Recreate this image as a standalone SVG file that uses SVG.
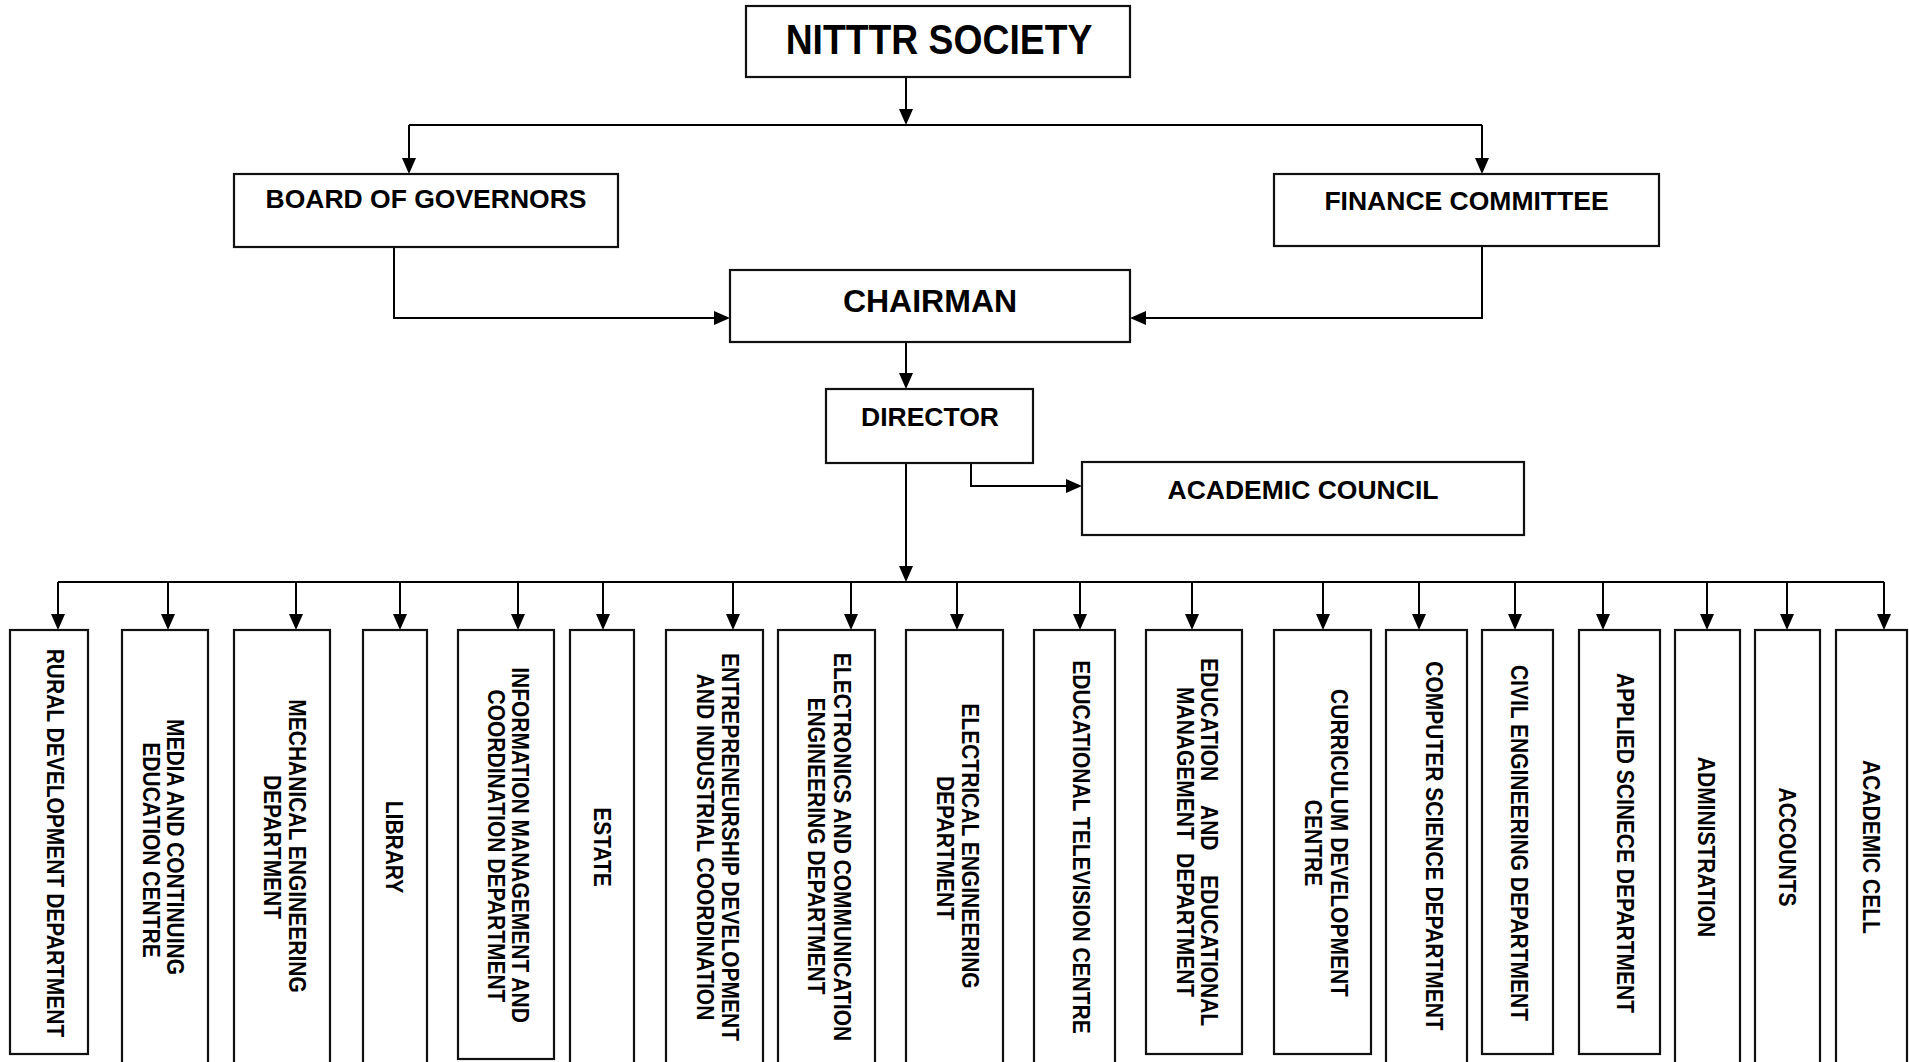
<svg xmlns="http://www.w3.org/2000/svg" width="1909" height="1062" viewBox="0 0 1909 1062">
<style>
.box{fill:#fff;stroke:#111;stroke-width:2.2}
.t{font-family:"Liberation Sans",Arial,sans-serif;font-weight:bold;fill:#000}
.top{font-size:26.5px;text-anchor:middle}
.v{font-size:21px;text-anchor:middle}
.vs{font-size:21px}
.c{fill:none;stroke:#000;stroke-width:2}
.a{marker-end:url(#ah)}
</style>
<defs>
<marker id="ah" markerUnits="userSpaceOnUse" markerWidth="18" markerHeight="16" refX="14" refY="7" orient="auto" viewBox="0 0 18 16">
<path d="M0,0 L16,7 L0,14 z" fill="#000"/>
</marker>
</defs>
<g id="connectors">
<path class="c a" d="M906,77 V123"/>
<path class="c" d="M409,125 H1482"/>
<path class="c a" d="M409,125 V172"/>
<path class="c a" d="M1482,125 V172"/>
<path class="c a" d="M394,248 V318 H728"/>
<path class="c a" d="M1482,246 V318 H1132"/>
<path class="c a" d="M906,342 V387"/>
<path class="c a" d="M971,463 V486 H1080"/>
<path class="c a" d="M906,463 V580"/>
<path class="c" d="M58,582 H1884"/>
<path class="c a" d="M58,582 V628"/>
<path class="c a" d="M168,582 V628"/>
<path class="c a" d="M296,582 V628"/>
<path class="c a" d="M400,582 V628"/>
<path class="c a" d="M518,582 V628"/>
<path class="c a" d="M603,582 V628"/>
<path class="c a" d="M733,582 V628"/>
<path class="c a" d="M851,582 V628"/>
<path class="c a" d="M957,582 V628"/>
<path class="c a" d="M1080,582 V628"/>
<path class="c a" d="M1192,582 V628"/>
<path class="c a" d="M1323,582 V628"/>
<path class="c a" d="M1419,582 V628"/>
<path class="c a" d="M1515,582 V628"/>
<path class="c a" d="M1603,582 V628"/>
<path class="c a" d="M1707,582 V628"/>
<path class="c a" d="M1787,582 V628"/>
<path class="c a" d="M1884,582 V628"/>
</g>
<g id="society"><rect class="box" x="746" y="6" width="384" height="71"/><text class="t" transform="translate(939,53.5) scale(1,1.12)" font-size="37.3" text-anchor="middle">NITTTR SOCIETY</text></g>
<g id="board"><rect class="box" x="234" y="174" width="384" height="73"/><text class="t top" x="426" y="208">BOARD OF GOVERNORS</text></g>
<g id="finance"><rect class="box" x="1274" y="174" width="385" height="72"/><text class="t top" x="1466.5" y="210">FINANCE COMMITTEE</text></g>
<g id="chairman"><rect class="box" x="730" y="270" width="400" height="72"/><text class="t" x="930" y="312" font-size="32" text-anchor="middle">CHAIRMAN</text></g>
<g id="director"><rect class="box" x="826" y="389" width="207" height="74"/><text class="t top" x="930" y="426">DIRECTOR</text></g>
<g id="academic-council"><rect class="box" x="1082" y="462" width="442" height="73"/><text class="t top" x="1303" y="499">ACADEMIC COUNCIL</text></g>

<g id="rural"><rect class="box" x="10" y="630" width="78" height="424"/><text class="t v" transform="translate(47,0) rotate(90) scale(1,1.1)" x="843">RURAL DEVELOPMENT DEPARTMENT</text></g>
<g id="media"><rect class="box" x="122" y="630" width="86" height="436"/><text class="t v" transform="translate(167,0) rotate(90) scale(1,1.1)" x="847">MEDIA AND CONTINUING</text><text class="t v" transform="translate(143,0) rotate(90) scale(1,1.1)" x="850">EDUCATION CENTRE</text></g>
<g id="mechanical"><rect class="box" x="234" y="630" width="96" height="436"/><text class="t v" transform="translate(289,0) rotate(90) scale(1,1.1)" x="846">MECHANICAL ENGINEERING</text><text class="t v" transform="translate(264,0) rotate(90) scale(1,1.1)" x="847">DEPARTMENT</text></g>
<g id="library"><rect class="box" x="363" y="630" width="64" height="436"/><text class="t v" transform="translate(386,0) rotate(90) scale(1,1.1)" x="847">LIBRARY</text></g>
<g id="information"><rect class="box" x="458" y="630" width="96" height="429"/><text class="t v" transform="translate(512,0) rotate(90) scale(1,1.1)" x="845">INFORMATION MANAGEMENT AND</text><text class="t v" transform="translate(488,0) rotate(90) scale(1,1.1)" x="846">COORDINATION DEPARTMENT</text></g>
<g id="estate"><rect class="box" x="570" y="630" width="64" height="436"/><text class="t v" transform="translate(594,0) rotate(90) scale(1,1.1)" x="847">ESTATE</text></g>
<g id="entrepreneurship"><rect class="box" x="666" y="630" width="97" height="436"/><text class="t v" transform="translate(722,0) rotate(90) scale(1,1.1)" x="847">ENTREPRENEURSHIP DEVELOPMENT</text><text class="t v" transform="translate(697,0) rotate(90) scale(1,1.1)" x="847">AND INDUSTRIAL COORDINATION</text></g>
<g id="electronics"><rect class="box" x="778" y="630" width="97" height="436"/><text class="t v" transform="translate(834,0) rotate(90) scale(1,1.1)" x="847">ELECTRONICS AND COMMUNICATION</text><text class="t v" transform="translate(808,0) rotate(90) scale(1,1.1)" x="846">ENGINEERING DEPARTMENT</text></g>
<g id="electrical"><rect class="box" x="906" y="630" width="97" height="436"/><text class="t v" transform="translate(962,0) rotate(90) scale(1,1.1)" x="846">ELECTRICAL ENGINEERING</text><text class="t v" transform="translate(937,0) rotate(90) scale(1,1.1)" x="848">DEPARTMENT</text></g>
<g id="educational-tv"><rect class="box" x="1034" y="630" width="81" height="436"/><text class="t v" transform="translate(1073,0) rotate(90) scale(1,1.1)" x="847">EDUCATIONAL TELEVISION CENTRE</text></g>
<g id="education-management"><rect class="box" x="1146" y="630" width="96" height="424"/><text class="t vs" transform="translate(1201,0) rotate(90) scale(1,1.1)"><tspan x="658">EDUCATION</tspan><tspan x="805">AND</tspan><tspan x="875">EDUCATIONAL</tspan></text><text class="t vs" transform="translate(1177,0) rotate(90) scale(1,1.1)"><tspan x="687">MANAGEMENT</tspan><tspan x="853">DEPARTMENT</tspan></text></g>
<g id="curriculum"><rect class="box" x="1274" y="630" width="97" height="424"/><text class="t v" transform="translate(1331,0) rotate(90) scale(1,1.1)" x="843">CURRICULUM DEVELOPMENT</text><text class="t v" transform="translate(1305,0) rotate(90) scale(1,1.1)" x="843">CENTRE</text></g>
<g id="computer"><rect class="box" x="1386" y="630" width="81" height="436"/><text class="t v" transform="translate(1426,0) rotate(90) scale(1,1.1)" x="846">COMPUTER SCIENCE DEPARTMENT</text></g>
<g id="civil"><rect class="box" x="1482" y="630" width="71" height="424"/><text class="t v" transform="translate(1511,0) rotate(90) scale(1,1.1)" x="843">CIVIL ENGINEERING DEPARTMENT</text></g>
<g id="applied"><rect class="box" x="1579" y="630" width="81" height="424"/><text class="t v" transform="translate(1617,0) rotate(90) scale(1,1.1)" x="843">APPLIED SCINECE DEPARTMENT</text></g>
<g id="administration"><rect class="box" x="1675" y="630" width="65" height="436"/><text class="t v" transform="translate(1698,0) rotate(90) scale(1,1.1)" x="847">ADMINISTRATION</text></g>
<g id="accounts"><rect class="box" x="1755" y="630" width="65" height="436"/><text class="t v" transform="translate(1779,0) rotate(90) scale(1,1.1)" x="847">ACCOUNTS</text></g>
<g id="academic-cell"><rect class="box" x="1836" y="630" width="71" height="436"/><text class="t v" transform="translate(1863,0) rotate(90) scale(1,1.1)" x="847">ACADEMIC CELL</text></g>
</svg>
